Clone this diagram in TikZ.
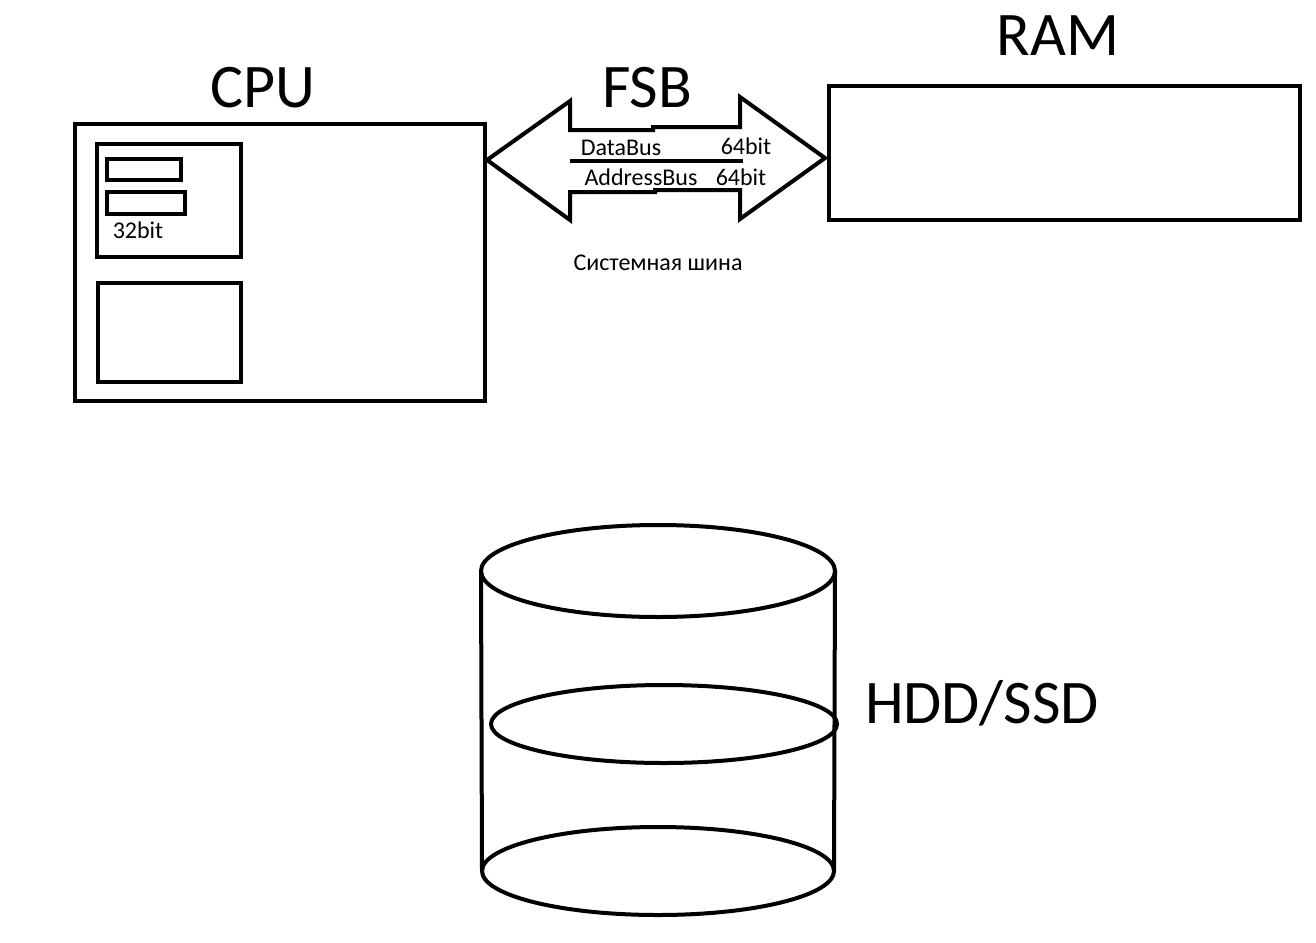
\documentclass[tikz,border=0pt]{standalone}
\usepackage{fontspec}
\setmainfont{Carlito}

\tikzset{every picture/.style={line width=4pt}}
\tikzset{
  bigtext/.style={inner sep=0pt,font=\fontsize{62}{68}\selectfont},
  smalltext/.style={inner sep=0pt,font=\fontsize{24}{28}\selectfont},
  box/.style={draw,inner sep=0pt,line width=4pt}
}

\begin{document}
\begin{tikzpicture}[x=1pt,y=1pt,yscale=-1,xscale=1]
\useasboundingbox (0,0) rectangle (1316,942);

%Shape: Rectangle [id:cpu]
\node [box,anchor=north west,minimum width=410,minimum height=277] (cpu) at (73,122) {};
%Shape: Rectangle [id:regs]
\node [box,anchor=north west,minimum width=144,minimum height=113] (regs) at (95,142) {};
\node [box,anchor=north west,minimum width=74,minimum height=21] (regA) at (105,157) {};
\node [box,anchor=north west,minimum width=78,minimum height=22] (regB) at (105,190) {};
%Shape: Rectangle [id:alu]
\node [box,anchor=north west,minimum width=143,minimum height=99] (alu) at (96,281) {};
%Shape: Rectangle [id:ram]
\node [box,anchor=north west,minimum width=471,minimum height=134] (ram) at (827,84) {};

%Shape: Double Arrow [id:fsb]
\draw (487,160) -- (570,101) -- (570,130) -- (653,130) -- (653,127) -- (740,127) -- (740,97)
  -- (825,158) -- (740,219) -- (740,190) -- (655,190) -- (655,192) -- (570,192) -- (570,220) -- cycle ;
%Straight Lines [id:busline]
\coordinate (busL) at (570,161);
\coordinate (busR) at (743,161);
\draw (busL) -- (busR) ;

%Shape: Cylinder [id:disk]
\coordinate (topC) at (658,571);
\coordinate (midC) at (664,724);
\coordinate (botC) at (658,871);
\draw (topC) ellipse [x radius=177,y radius=46] ;
\draw (midC) ellipse [x radius=173,y radius=39] ;
\draw (botC) ellipse [x radius=176,y radius=44] ;
\draw (481,571) -- (482,871) ;
\draw (835,571) -- (834,871) ;

% Text Node
\node [bigtext] (cpuLbl) at (263,88) {CPU};
% Text Node
\node [bigtext] (ramLbl) at (1058,36) {RAM};
% Text Node
\node [bigtext] (fsbLbl) at (647,88) {FSB};
% Text Node
\node [bigtext] (hddLbl) at (982,703) {HDD/SSD};
% Text Node
\node [smalltext] (bitsCpu) at (138,230) {32bit};
% Text Node
\node [smalltext] (dataLbl) at (621,148) {DataBus};
% Text Node
\node [smalltext] (dataBits) at (746,146) {64bit};
% Text Node
\node [smalltext] (addrLbl) at (641,177) {AddressBus};
% Text Node
\node [smalltext] (addrBits) at (741,177) {64bit};
% Text Node
\node [smalltext] (sysLbl) at (658,263) {Системная шина};

\end{tikzpicture}
\end{document}
